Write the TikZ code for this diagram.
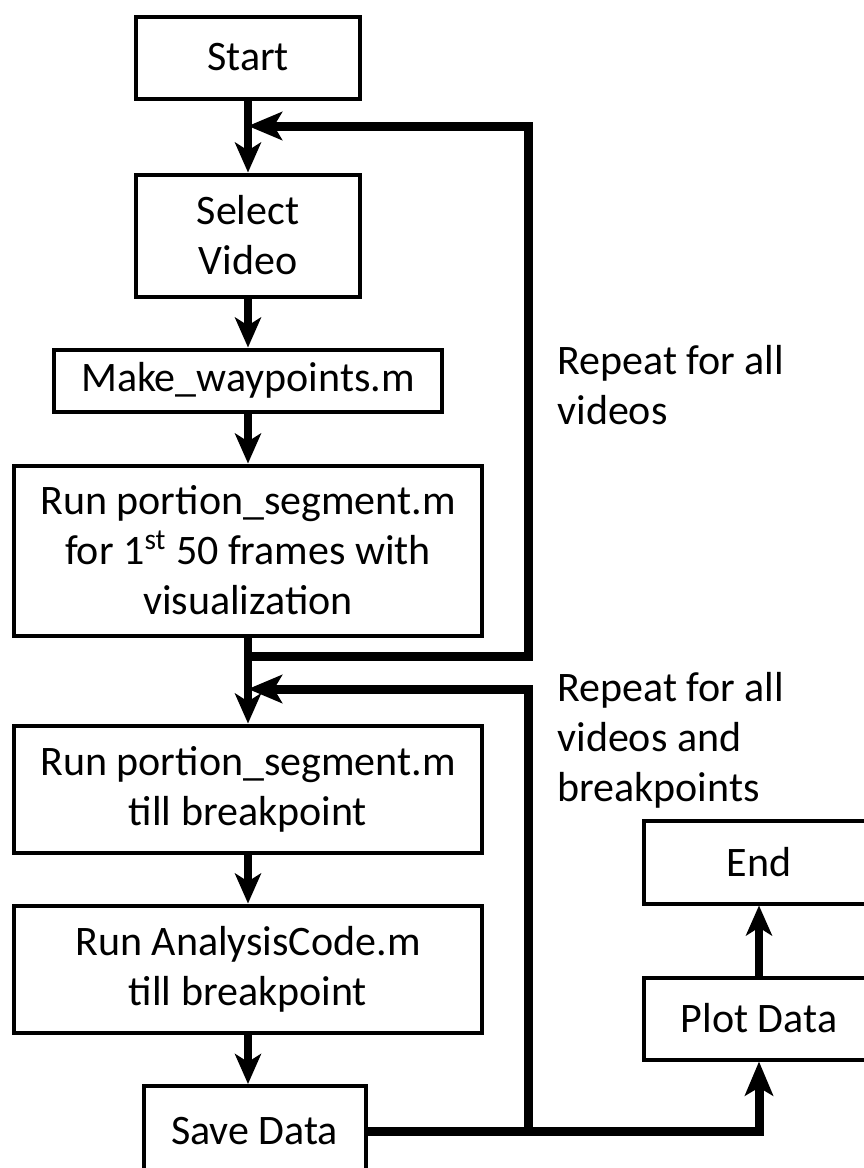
\documentclass[tikz,border=0pt]{standalone}
\usepackage{fontspec}
\setmainfont{Carlito}
\usepackage{tikz}
\usetikzlibrary{arrows.meta}
\tikzset{
  box/.style={draw, line width=2pt, align=center, inner sep=0pt,
    font=\fontsize{21}{25}\selectfont},
  flow/.style={draw, line width=4pt,
    -{Stealth[length=15pt, width=13pt, inset=4pt]}},
  loopline/.style={draw, line width=4.5pt, line join=miter,
    -{Stealth[length=17pt, width=14pt, inset=4pt]}},
  note/.style={align=left, inner sep=0pt,
    font=\fontsize{21}{25}\selectfont},
}

\begin{document}
\begin{tikzpicture}[x=0.5pt, y=-0.5pt]

  \useasboundingbox (0,0) rectangle (863,1168);

  % Define nodes
  \node[box, minimum width=112pt, minimum height=41pt] (start) at (248,57.5) {Start};
  \node[box, minimum width=112pt, minimum height=61pt] (select) at (248,235.5) {Select\\Video};
  \node[box, minimum width=194pt, minimum height=31pt] (waypoints) at (248,380.5) {Make\_waypoints.m};
  \node[box, minimum width=234pt, minimum height=85pt] (portion1) at (248,550.5) {Run portion\_segment.m\\for 1\textsuperscript{st} 50 frames with\\visualization};
  \node[box, minimum width=234pt, minimum height=63.5pt] (portion2) at (248,789) {Run portion\_segment.m\\till breakpoint};
  \node[box, minimum width=234pt, minimum height=63.5pt] (analysis) at (248,969) {Run AnalysisCode.m\\till breakpoint};
  \node[box, minimum width=111pt, minimum height=45pt] (save) at (254.5,1131) {Save Data};

  \node[box, minimum width=115pt, minimum height=41pt] (plot) at (759,1018.5) {Plot Data};
  \node[box, minimum width=115pt, minimum height=41.5pt] (end) at (759,862) {End};

  \node[note, anchor=north west] (repeat1) at (557,345) {Repeat for all\\videos};
  \node[note, anchor=north west] (repeat2) at (557,672) {Repeat for all\\videos and\\breakpoints};

  \coordinate (back1) at (528,126);
  \coordinate (out1) at (528,656);
  \coordinate (back2) at (528,689);

  % Connect nodes
  \draw[flow] (start) -- (select);
  \draw[flow] (select) -- (waypoints);
  \draw[flow] (waypoints) -- (portion1);
  \draw[flow] (portion1) -- (portion2);
  \draw[flow] (portion2) -- (analysis);
  \draw[flow] (analysis.south) -- (analysis.south |- save.north);
  \draw[flow] (plot) -- (end);

  % Loops
  \draw[loopline] (portion1 |- out1) -- (out1) -- (back1) -- (back1 -| start);
  \draw[loopline] (save.east) -| (plot.south);
  \draw[loopline] (save.east -| back2) -- (back2) -- (back2 -| portion2);

\end{tikzpicture}
\end{document}
